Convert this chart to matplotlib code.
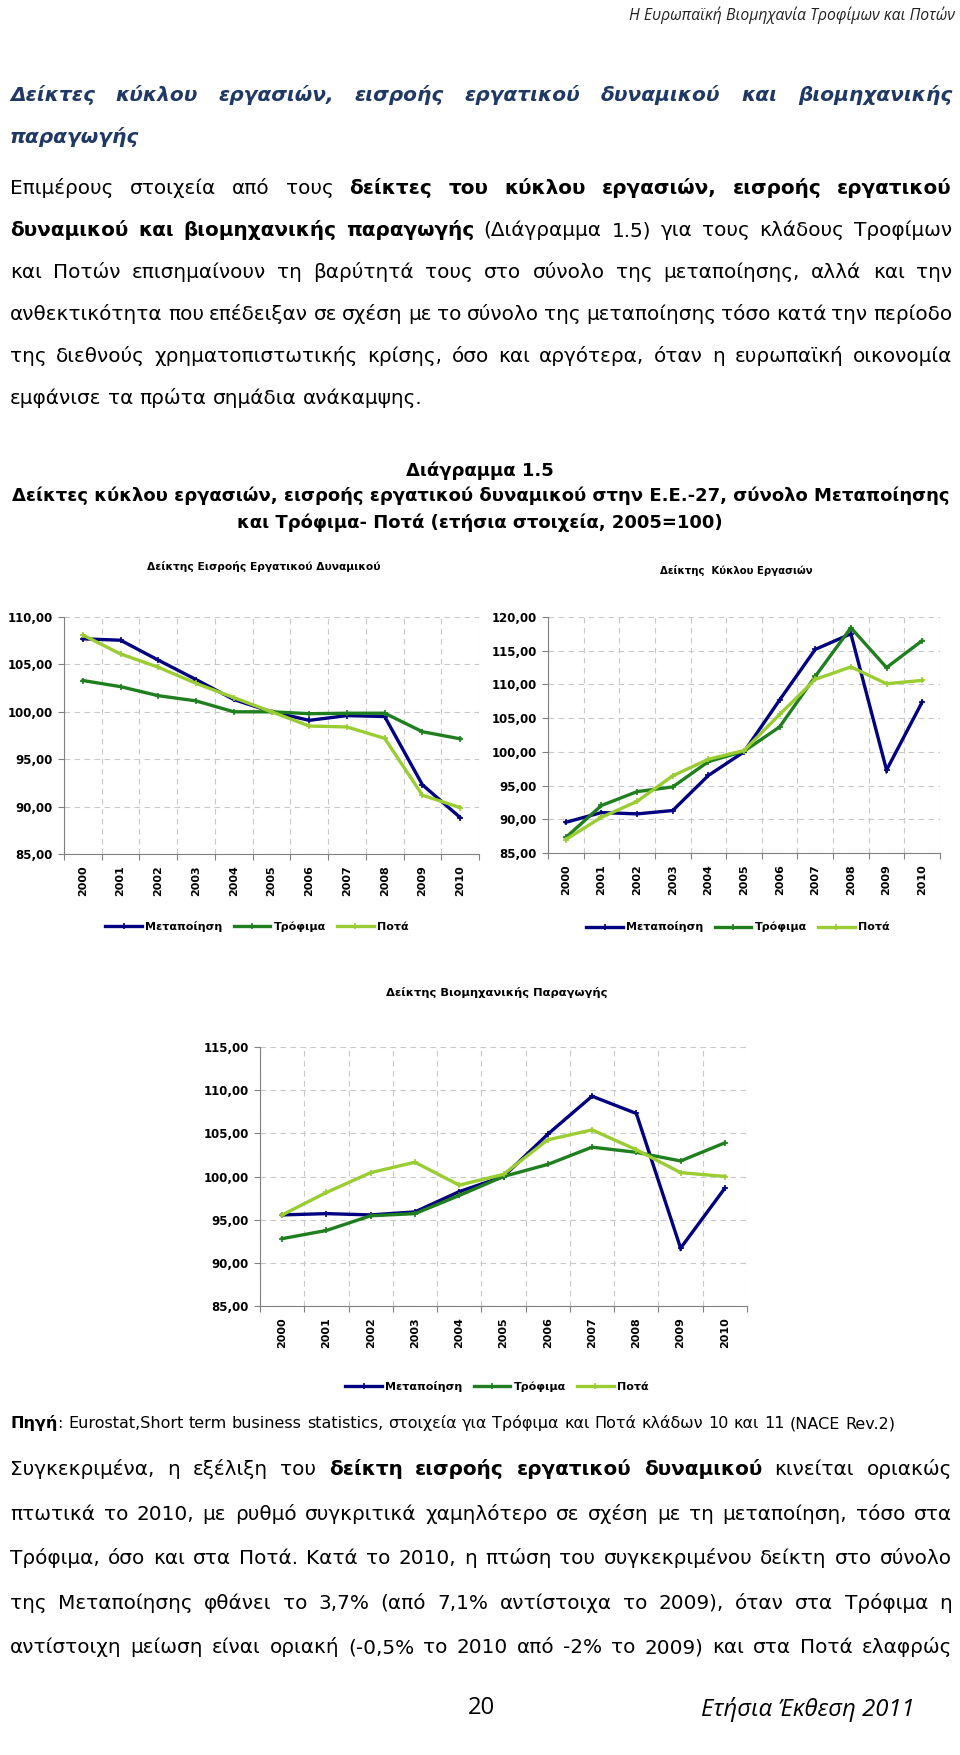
import matplotlib
matplotlib.use("Agg")
import matplotlib.pyplot as plt
import matplotlib.ticker as ticker
import numpy as np

W, H = 960, 1755

# ---- chart data ----
years = ['2000', '2001', '2002', '2003', '2004', '2005', '2006', '2007', '2008', '2009', '2010']
series_names = ['Μεταποίηση', 'Τρόφιμα', 'Ποτά']
series_colors = ['#000080', '#1F7F1F', '#9ACD32']

# Δείκτης Εισροής Εργατικού Δυναμικού
labour_manuf = [107.7, 107.55, 105.45, 103.4, 101.3, 100.0, 99.1, 99.6, 99.5, 92.3, 88.85]
labour_food = [103.3, 102.65, 101.7, 101.15, 100.0, 100.0, 99.8, 99.85, 99.85, 97.9, 97.15]
labour_drinks = [108.1, 106.1, 104.7, 103.0, 101.5, 100.0, 98.5, 98.4, 97.2, 91.2, 89.9]

# Δείκτης Κύκλου Εργασιών
turnover_manuf = [89.55, 91.0, 90.8, 91.3, 96.5, 100.0, 107.7, 115.2, 117.5, 97.3, 107.4]
turnover_food = [87.3, 92.05, 94.1, 94.8, 98.55, 100.1, 103.7, 111.2, 118.4, 112.5, 116.5]
turnover_drinks = [87.0, 90.3, 92.65, 96.45, 98.9, 100.2, 105.55, 110.75, 112.6, 110.1, 110.6]

# Δείκτης Βιομηχανικής Παραγωγής
production_manuf = [95.55, 95.7, 95.55, 95.9, 98.25, 100.0, 104.9, 109.3, 107.3, 91.7, 98.65]
production_food = [92.8, 93.75, 95.45, 95.7, 97.8, 100.0, 101.4, 103.4, 102.8, 101.8, 103.9]
production_drinks = [95.55, 98.15, 100.45, 101.65, 99.0, 100.25, 104.25, 105.4, 103.1, 100.45, 100.0]

# ---- page text ----
header = 'Η Ευρωπαϊκή Βιομηχανία Τροφίμων και Ποτών'
heading = ['Δείκτες κύκλου εργασιών, εισροής εργατικού δυναμικού και βιομηχανικής',
           'παραγωγής']
para1 = ['Επιμέρους στοιχεία από τους *δείκτες του κύκλου εργασιών, εισροής εργατικού*',
         '*δυναμικού και βιομηχανικής παραγωγής* (Διάγραμμα 1.5) για τους κλάδους Τροφίμων',
         'και Ποτών επισημαίνουν τη βαρύτητά τους στο σύνολο της μεταποίησης, αλλά και την',
         'ανθεκτικότητα που επέδειξαν σε σχέση με το σύνολο της μεταποίησης τόσο κατά την περίοδο',
         'της διεθνούς χρηματοπιστωτικής κρίσης, όσο και αργότερα, όταν η ευρωπαϊκή οικονομία',
         'εμφάνισε τα πρώτα σημάδια ανάκαμψης.']
fig_title = ['Διάγραμμα 1.5',
             'Δείκτες κύκλου εργασιών, εισροής εργατικού δυναμικού στην Ε.Ε.-27, σύνολο Μεταποίησης',
             'και Τρόφιμα- Ποτά (ετήσια στοιχεία, 2005=100)']
source = '*Πηγή*: Eurostat,Short term business statistics, στοιχεία για Τρόφιμα και Ποτά κλάδων 10 και 11 (NACE Rev.2)'
para2 = ['Συγκεκριμένα, η εξέλιξη του *δείκτη εισροής εργατικού δυναμικού* κινείται οριακώς',
         'πτωτικά το 2010, με ρυθμό συγκριτικά χαμηλότερο σε σχέση με τη μεταποίηση, τόσο στα',
         'Τρόφιμα, όσο και στα Ποτά. Κατά το 2010, η πτώση του συγκεκριμένου δείκτη στο σύνολο',
         'της Μεταποίησης φθάνει το 3,7% (από 7,1% αντίστοιχα το 2009), όταν στα Τρόφιμα η',
         'αντίστοιχη μείωση είναι οριακή (-0,5% το 2010 από -2% το 2009) και στα Ποτά ελαφρώς']

BODY = ['DejaVu Sans']
SIDE = ['Open Sans', 'Noto Sans', 'DejaVu Sans']

fig = plt.figure(figsize=(W / 100, H / 100), dpi=100)
renderer = fig.canvas.get_renderer()


def measure(s, size, weight='normal', style='normal', family=BODY):
    t = fig.text(0, 0, s, fontsize=size, fontweight=weight, fontstyle=style, family=family)
    w = t.get_window_extent(renderer).width
    t.remove()
    return w


def space_width(size, weight='normal', style='normal', family=BODY):
    return (measure('a a', size, weight, style, family)
            - measure('aa', size, weight, style, family))


def parse_words(line):
    # '*' toggles bold
    words, bold = [], False
    for raw in line.split(' '):
        segs = []
        for i, part in enumerate(raw.split('*')):
            if i > 0:
                bold = not bold
            if part:
                segs.append((part, bold))
        words.append(segs)
    return words


def word_widths(words, size, style, family):
    return [sum(measure(s, size, 'bold' if b else 'normal', style, family) for s, b in w)
            for w in words]


def natural_width(line, size, style='normal', family=BODY):
    words = parse_words(line)
    return sum(word_widths(words, size, style, family)) + space_width(size, 'normal', style, family) * (len(words) - 1)


def draw_line(line, yc, size, x0=10, x1=952, justify=True, color='black',
              style='normal', family=BODY, allbold=False):
    words = parse_words(line)
    if allbold:
        words = [[(s, True) for s, _ in w] for w in words]
    widths = word_widths(words, size, style, family)
    if justify and len(words) > 1:
        gap = (x1 - x0 - sum(widths)) / (len(words) - 1)
    else:
        gap = space_width(size, 'bold' if allbold else 'normal', style, family)
    base = yc + 0.32 * size * 100 / 72
    x = x0
    for w, ww in zip(words, widths):
        xx = x
        for s, b in w:
            fig.text(xx / W, 1 - base / H, s, fontsize=size, fontweight='bold' if b else 'normal',
                     fontstyle=style, family=family, color=color, va='baseline', ha='left')
            xx += measure(s, size, 'bold' if b else 'normal', style, family)
        x += ww + gap


def centered(s, xc, yc, size, **kw):
    fig.text(xc / W, 1 - yc / H, s, fontsize=size, ha='center', va='center', **kw)


# header
hs = 10 * 325 / measure(header, 10, style='italic', family=SIDE)
fig.text(955 / W, 1 - 15 / H, header, fontsize=hs, fontstyle='italic', family=SIDE,
         color='#222222', ha='right', va='center')

# heading (bold italic, blue)
head_size = 10 * 129 / measure(heading[1], 10, 'bold', 'italic')
draw_line(heading[0], 95, head_size, style='oblique', color='#1F3864', allbold=True)
draw_line(heading[1], 137, head_size, justify=False, style='oblique', color='#1F3864', allbold=True)

# paragraph 1
body = 10 * 409 / natural_width(para1[-1], 10)
for i, line in enumerate(para1):
    draw_line(line, 188 + 42 * i, body, justify=(i < len(para1) - 1))

# figure title
ts = 10 * 940 / measure(fig_title[1], 10, 'bold')
centered(fig_title[0], 480, 471, ts, fontweight='bold', family=BODY)
centered(fig_title[1], 481, 496, ts, fontweight='bold', family=BODY)
centered(fig_title[2], 480, 523, ts, fontweight='bold', family=BODY)


def fmt(v, pos):
    return f"{v:.2f}".replace('.', ',')


def draw_chart(box, title, title_xy, title_w, legend_xy, ylim, series):
    l, t, r, b = box
    ax = fig.add_axes([l / W, 1 - b / H, (r - l) / W, (b - t) / H])
    x = np.arange(len(years))
    for vals, name, color in zip(series, series_names, series_colors):
        ax.plot(x, vals, color=color, lw=2.4, marker='+', ms=4, mew=1.2,
                label=name, solid_joinstyle='miter')
    ax.set_xlim(-0.5, len(years) - 0.5)
    ax.set_ylim(*ylim)
    ax.set_yticks(np.arange(ylim[0], ylim[1] + 1, 5))
    ax.yaxis.set_major_formatter(ticker.FuncFormatter(fmt))
    ax.set_xticks(np.arange(-0.5, len(years)))
    ax.set_xticklabels([])
    ax.set_xticks(x, minor=True)
    ax.set_xticklabels(years, minor=True, rotation=90, fontweight='bold', fontsize=8)
    ax.tick_params(axis='x', which='minor', length=0, pad=8)
    ax.tick_params(axis='x', which='major', length=4, color='#808080')
    ax.tick_params(axis='y', length=4, color='#808080', pad=4, labelsize=8.5)
    for lab in ax.get_yticklabels():
        lab.set_fontweight('bold')
    ax.grid(True, which='major', color='#C8C8C8', linestyle=(0, (5, 4)), lw=0.8)
    ax.set_axisbelow(True)
    for side in ['top', 'right']:
        ax.spines[side].set_visible(False)
    for side in ['left', 'bottom']:
        ax.spines[side].set_color('#808080')
    size = 10 * title_w / measure(title, 10, 'bold')
    centered(title, title_xy[0], title_xy[1], size, fontweight='bold', family=BODY)
    ax.legend(loc='center', bbox_to_anchor=(legend_xy[0] / W, 1 - legend_xy[1] / H),
              bbox_transform=fig.transFigure, ncol=3, frameon=False,
              prop=dict(weight='bold', size=8), handlelength=3.3, handletextpad=0.3,
              columnspacing=1.0)
    return ax


draw_chart((64, 617, 479, 854), 'Δείκτης Εισροής Εργατικού Δυναμικού', (264, 566), 232,
           (257, 926), (85, 110), [labour_manuf, labour_food, labour_drinks])
draw_chart((548, 617, 940, 853), 'Δείκτης  Κύκλου Εργασιών', (736, 571), 152,
           (738, 927), (85, 120), [turnover_manuf, turnover_food, turnover_drinks])
draw_chart((260, 1047, 747, 1306), 'Δείκτης Βιομηχανικής Παραγωγής', (497, 993), 220,
           (497, 1386), (85, 115), [production_manuf, production_food, production_drinks])

# source line
ss = 10 * 881 / natural_width(source, 10)
draw_line(source, 1423, ss, justify=False)

# paragraph 2
for i, line in enumerate(para2):
    draw_line(line, 1469 + 44.5 * i, body)

# footer
fs = 10 * 213 / measure('Ετήσια Έκθεση 2011', 10, style='italic', family=SIDE)
fig.text(481 / W, 1 - 1708 / H, '20', fontsize=fs, family=SIDE, ha='center', va='center')
fig.text(915 / W, 1 - 1710 / H, 'Ετήσια Έκθεση 2011', fontsize=fs, fontstyle='italic',
         family=SIDE, ha='right', va='center')

fig.savefig('out.png', dpi=100)
